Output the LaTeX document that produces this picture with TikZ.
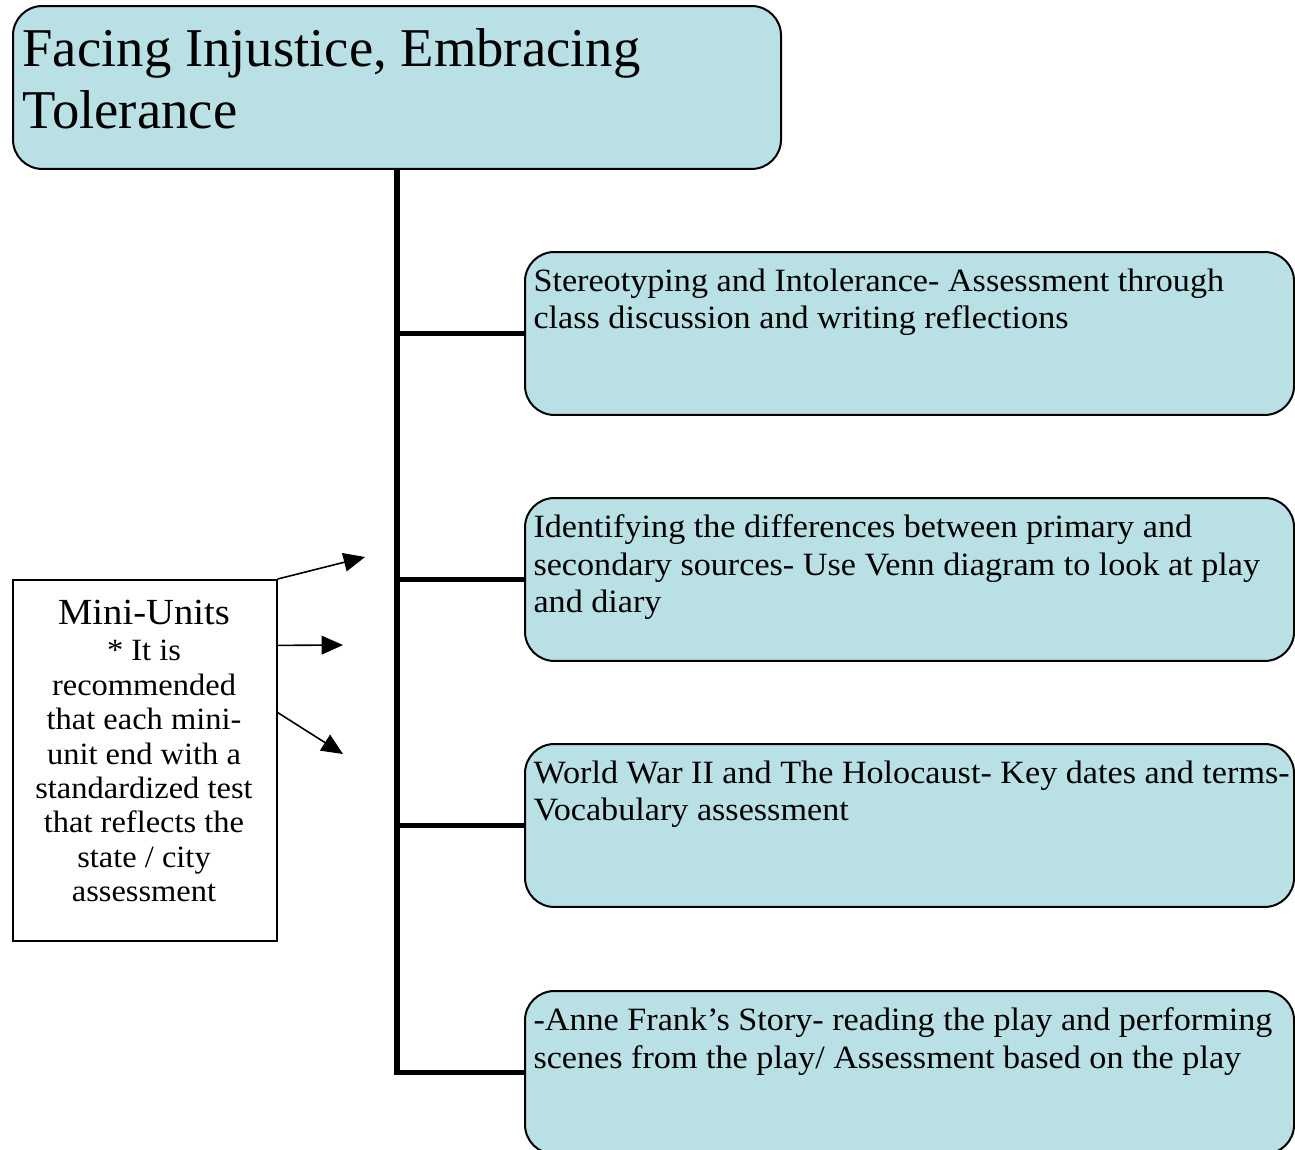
\documentclass[tikz,border=0pt]{standalone}
\usepackage{fontspec}
\setmainfont[FakeStretch=1.05]{Liberation Serif}
\newfontfamily\titlefont{Liberation Serif}
\usetikzlibrary{arrows.meta,calc,positioning}
\definecolor{topicfill}{RGB}{185,224,228}
\tikzset{
  title box/.style={draw,fill=topicfill,rounded corners=11pt,line width=0.75pt,minimum width=288pt,minimum height=61.1pt,anchor=north west,inner sep=0pt},
  topic box/.style={draw,fill=topicfill,rounded corners=11pt,line width=0.75pt,minimum width=288.4pt,minimum height=61.1pt,anchor=north west,inner sep=0pt},
  topic text/.style={anchor=north west,inner sep=0pt,align=left,font=\fontsize{12.2}{14.1}\selectfont},
  trunk line/.style={line width=1.9pt},
  unit box/.style={draw,line width=0.6pt,minimum width=99pt,minimum height=135.4pt,anchor=north west,inner sep=0pt},
  unit arrow/.style={-{Triangle[length=8pt,width=7pt]},line width=0.6pt},
}

\begin{document}
\begin{tikzpicture}[x=0.375pt,y=-0.375pt]
  \clip (0,0) rectangle (1295,1149);
  % title
  \node[title box] (title) at (12,5) {};
  \node[anchor=north west,inner sep=0pt,align=left,font=\titlefont\fontsize{20.5}{23.25}\selectfont] (titletext) at (22,28) {Facing Injustice, Embracing\\Tolerance};
  % topics
  \foreach \i/\y/\txt in {1/251/{Stereotyping and Intolerance- Assessment through\\class discussion and writing reflections},
                          2/497/{Identifying the differences between primary and\\secondary sources- Use Venn diagram to look at play\\and diary},
                          3/743/{World War II and The Holocaust- Key dates and terms-\\Vocabulary assessment},
                          4/990/{-Anne Frank’s Story- reading the play and performing\\scenes from the play/ Assessment based on the play}}{
    \node[topic box] (t\i) at (524,\y) {};
    \node[topic text] (tt\i) at ($(t\i.north west)+(9,17)$) {\txt};
  }
  \draw[trunk line] (title.south) |- (t4.west);
  \foreach \i in {1,2,3}
    \draw[trunk line] (title.south |- t\i.west) -- (t\i.west);
  % mini-units note
  \node[unit box] (mini) at (12,579) {};
  \node[anchor=north,inner sep=0pt,align=center,font=\fontsize{11.6}{12.9}\selectfont] (minitext) at (144,600)
    {{\fontsize{13.8}{13.8}\selectfont Mini-Units}\\[0.6pt]* It is\\recommended\\that each mini-\\unit end with a\\standardized test\\that reflects the\\state / city\\assessment};
  \coordinate (a1) at (365,557);
  \coordinate (a2) at (343,645);
  \coordinate (a3) at (343,754);
  \draw[unit arrow] (mini.north east) -- (a1);
  \draw[unit arrow] ($(mini.north east)!0.183!(mini.south east)$) -- (a2);
  \draw[unit arrow] ($(mini.north east)!0.368!(mini.south east)$) -- (a3);
\end{tikzpicture}
\end{document}
